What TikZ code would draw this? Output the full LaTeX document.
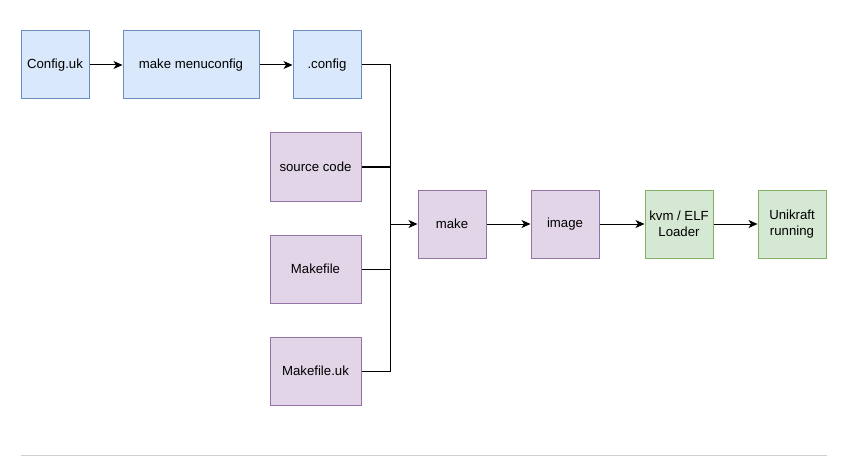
\documentclass[tikz,border=0pt]{standalone}
\usepackage{fontspec}
\setmainfont{Liberation Sans}
\usetikzlibrary{arrows.meta}
\definecolor{bfill}{HTML}{DAE8FC}\definecolor{bdraw}{HTML}{6C8EBF}
\definecolor{pfill}{HTML}{E1D5E7}\definecolor{pdraw}{HTML}{9673A6}
\definecolor{gfill}{HTML}{D5E8D4}\definecolor{gdraw}{HTML}{82B366}
\begin{document}
\begin{tikzpicture}[x=1pt,y=-1pt,
  box/.style={draw, line width=1pt, minimum height=68pt, inner sep=0pt, align=center, font=\fontsize{13.2}{15.5}\selectfont},
  bluebox/.style={box, fill=bfill, draw=bdraw},
  purplebox/.style={box, fill=pfill, draw=pdraw},
  greenbox/.style={box, fill=gfill, draw=gdraw},
  conn/.style={line width=1pt},
  arr/.style={conn, -{Stealth[length=9pt,width=8pt,inset=2.5pt]}}]
\useasboundingbox (0,0) rectangle (850,465);
\node[bluebox, minimum width=68pt] (cfguk) at (55,65) {Config.uk};
\node[bluebox, minimum width=136pt] (menu) at (191,65) {make menuconfig};
\node[bluebox, minimum width=68pt] (dotcfg) at (327,65) {.config};
\node[purplebox, minimum width=91pt] (src) at (315.5,167) {source code};
\node[purplebox, minimum width=91pt] (mkf) at (315.5,269) {Makefile};
\node[purplebox, minimum width=91pt] (mkuk) at (315.5,371) {Makefile.uk};
\node[purplebox, minimum width=68pt] (make) at (452,224) {make};
\node[purplebox, minimum width=68pt] (img) at (565,224) {image};
\node[greenbox, minimum width=68pt] (kvm) at (679,224) {kvm / ELF\\Loader};
\node[greenbox, minimum width=68pt] (uni) at (792,224) {Unikraft\\running};
\coordinate (bus) at (390,224);
\draw[arr] (cfguk) -- (menu);
\draw[arr] (menu) -- (dotcfg);
\draw[conn] (dotcfg.east) -| (bus);
\draw[conn] (src.east) -| (bus);
\draw[conn] (mkf.east) -| (bus);
\draw[conn] (mkuk.east) -| (bus);
\draw[arr] (bus) -- (make);
\draw[arr] (make) -- (img);
\draw[arr] (img) -- (kvm);
\draw[arr] (kvm) -- (uni);
\coordinate (l1) at (21,455);
\coordinate (l2) at (827,455);
\draw[line width=1pt, draw={rgb,255:red,208;green,208;blue,208}] (l1) -- (l2);
\end{tikzpicture}
\end{document}
